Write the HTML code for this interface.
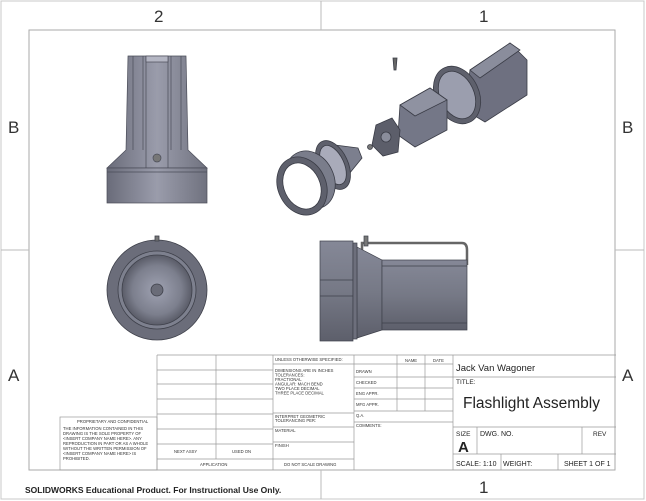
<!DOCTYPE html>
<html><head><meta charset="utf-8"><style>
body{margin:0;background:#fff;}
svg{display:block;font-family:"Liberation Sans",sans-serif;}
.t{font-size:4.2px;fill:#333;}
</style></head><body>
<svg width="646" height="501" viewBox="0 0 646 501" xmlns="http://www.w3.org/2000/svg">
<defs>
<linearGradient id="gh" x1="0" y1="0" x2="1" y2="0">
<stop offset="0" stop-color="#6a6c7a"/><stop offset="0.5" stop-color="#9a9cab"/><stop offset="1" stop-color="#70727f"/></linearGradient>
<linearGradient id="gv" x1="0" y1="0" x2="0" y2="1">
<stop offset="0" stop-color="#858897"/><stop offset="0.5" stop-color="#767986"/><stop offset="1" stop-color="#5d5f6b"/></linearGradient>
<radialGradient id="gr" cx="0.5" cy="0.5" r="0.5">
<stop offset="0" stop-color="#9fa2b2"/><stop offset="0.7" stop-color="#7c7f8d"/><stop offset="1" stop-color="#5a5c68"/></radialGradient>
</defs>
<rect x="1" y="1" width="643" height="498" fill="none" stroke="#c8c8c8" stroke-width="1"/>
<rect x="29" y="30" width="586" height="440" fill="none" stroke="#aaa" stroke-width="1"/>
<g stroke="#bbb"><line x1="321" y1="1" x2="321" y2="30"/><line x1="321" y1="470" x2="321" y2="499"/>
<line x1="1" y1="250" x2="29" y2="250"/><line x1="615" y1="250" x2="644" y2="250"/></g>
<g font-size="17" fill="#333">
<text x="154" y="22">2</text><text x="479" y="22">1</text>
<text x="8" y="133">B</text><text x="622" y="133">B</text>
<text x="8" y="381">A</text><text x="622" y="381">A</text>
<text x="154" y="497">2</text><text x="479" y="493">1</text></g>
<rect x="20" y="485" width="265" height="12" fill="#fff"/>

<g stroke="#4a4c58" stroke-width="0.7">
<polygon points="128,56 186,56 188,150 207,168 107,168 126,150" fill="url(#gh)"/>
<rect x="107" y="168" width="100" height="35" fill="url(#gh)"/>
<line x1="107" y1="172" x2="207" y2="172"/>
<line x1="143" y1="56" x2="143" y2="150"/><line x1="146" y1="56" x2="146" y2="168"/>
<line x1="168" y1="56" x2="168" y2="168"/><line x1="171" y1="56" x2="171" y2="150"/>
<line x1="133" y1="56" x2="133" y2="150"/><line x1="181" y1="56" x2="181" y2="150"/>
<rect x="146" y="56" width="22" height="6" fill="#b4b6c3"/>
<circle cx="157" cy="158" r="4" fill="#777"/></g>

<g stroke="#3e404a" stroke-width="0.8">
<circle cx="157" cy="290" r="50" fill="#6b6d7a"/>
<circle cx="157" cy="290" r="39" fill="#7d808e"/>
<circle cx="157" cy="290" r="35" fill="url(#gr)"/>
<circle cx="157" cy="290" r="6" fill="#6a6c78"/>
<rect x="155" y="236" width="4" height="5" fill="#777"/></g>

<g stroke="#3e404a" stroke-width="0.7">
<path d="M362,262 V243 H462 Q467,243 467,250 V265" fill="none" stroke="#666" stroke-width="2.5"/>
<polygon points="357,247 382,260 382,330 357,338" fill="url(#gv)"/>
<rect x="382" y="260" width="85" height="70" fill="url(#gv)"/>
<line x1="382" y1="266" x2="467" y2="266"/><line x1="382" y1="323" x2="467" y2="323"/>
<rect x="320" y="241" width="33" height="100" fill="url(#gv)"/>
<line x1="320" y1="280" x2="353" y2="280"/><line x1="320" y1="296" x2="353" y2="296"/>
<rect x="353" y="243" width="4" height="96" fill="#6d6f7c"/>
<rect x="364" y="236" width="4" height="10" fill="#777"/></g>

<g stroke="#3a3c46" stroke-width="0.8">
<polygon points="470,70 510,43 527,60 527,95 485,122 465,110" fill="#6e7080"/>
<polygon points="470,70 510,43 520,50 480,78" fill="#8a8d9c"/>
<ellipse cx="457" cy="95" rx="22" ry="30" transform="rotate(-25 457 95)" fill="#5e606c"/>
<ellipse cx="457" cy="95" rx="17" ry="25" transform="rotate(-25 457 95)" fill="#9b9eae"/>
<polygon points="400,105 430,88 447,100 447,130 415,147 398,135" fill="#747787"/>
<polygon points="400,105 430,88 447,100 415,116" fill="#8f92a1"/>
<polygon points="376,125 392,118 400,130 398,152 383,156 372,145" fill="#5c5e6a"/>
<circle cx="386" cy="137" r="5" fill="#8a8d9b"/>
<circle cx="370" cy="147" r="2.5" fill="#777"/>
<polygon points="335,145 358,148 362,158 340,185" fill="#7c7f8e"/>
<ellipse cx="333" cy="165" rx="15" ry="26" transform="rotate(-25 333 165)" fill="#5e606c"/>
<ellipse cx="333" cy="165" rx="11" ry="21" transform="rotate(-25 333 165)" fill="#a9abba"/>
<ellipse cx="310" cy="180" rx="24" ry="30" transform="rotate(-25 310 180)" fill="#7a7d8b"/>
<ellipse cx="302" cy="186" rx="24" ry="30" transform="rotate(-25 302 186)" fill="#5e606c"/>
<ellipse cx="302" cy="186" rx="18" ry="24" transform="rotate(-25 302 186)" fill="#fff"/>
<polygon points="393,58 397,58 396,70 394,70" fill="#666"/></g>

<g stroke="#9a9a9a" stroke-width="0.7" fill="none">
<path d="M157,355 H616 M157,355 V470 M216,355 V459 M273,355 V470 M354,355 V470 M397,355 V411 M425,355 V411 M453,355 V470"/>
<path d="M157,370 H273 M157,384 H273 M157,399 H273 M157,414 H273 M157,429 H273 M157,444 H273 M157,459 H354"/>
<path d="M273,364 H354 M273,413 H354 M273,427 H354 M273,442 H354"/>
<path d="M354,364 H453 M354,377 H453 M354,388 H453 M354,399 H453 M354,411 H453 M354,422 H453"/>
<path d="M453,377 H616 M453,427 H616 M453,454 H616 M477,427 V454 M582,427 V454 M501,454 V470 M558,454 V470"/>
<rect x="60" y="417" width="97" height="53"/></g>
<g class="t">
<text x="275" y="361">UNLESS OTHERWISE SPECIFIED:</text>
<text x="405" y="362">NAME</text><text x="433" y="362">DATE</text>
<text x="275" y="372">DIMENSIONS ARE IN INCHES</text>
<text x="275" y="376.5">TOLERANCES:</text><text x="275" y="381">FRACTIONAL</text>
<text x="275" y="385.5">ANGULAR: MACH      BEND</text>
<text x="275" y="390">TWO PLACE DECIMAL</text><text x="275" y="394.5">THREE PLACE DECIMAL</text>
<text x="275" y="418">INTERPRET GEOMETRIC</text><text x="275" y="422">TOLERANCING PER:</text>
<text x="275" y="432">MATERIAL</text><text x="275" y="447">FINISH</text>
<text x="284" y="466">DO NOT SCALE DRAWING</text>
<text x="200" y="466">APPLICATION</text>
<text x="174" y="453">NEXT ASSY</text><text x="232" y="453">USED ON</text>
<text x="356" y="373">DRAWN</text><text x="356" y="384">CHECKED</text><text x="356" y="395">ENG APPR.</text>
<text x="356" y="406">MFG APPR.</text><text x="356" y="417">Q.A.</text><text x="356" y="427">COMMENTS:</text>
<text x="77" y="423">PROPRIETARY AND CONFIDENTIAL</text>
<text x="63" y="430">THE INFORMATION CONTAINED IN THIS</text>
<text x="63" y="435">DRAWING IS THE SOLE PROPERTY OF</text>
<text x="63" y="440">&lt;INSERT COMPANY NAME HERE&gt;.  ANY</text>
<text x="63" y="445">REPRODUCTION IN PART OR AS A WHOLE</text>
<text x="63" y="450">WITHOUT THE WRITTEN PERMISSION OF</text>
<text x="63" y="455">&lt;INSERT COMPANY NAME HERE&gt; IS</text>
<text x="63" y="460">PROHIBITED.</text></g>
<g fill="#222">
<text x="456" y="371" font-size="9.5">Jack Van Wagoner</text>
<text x="456" y="384" font-size="6.5">TITLE:</text>
<text x="463" y="408" font-size="15.5">Flashlight Assembly</text>
<text x="456" y="436" font-size="6.5">SIZE</text>
<text x="458" y="452" font-size="15" font-weight="bold">A</text>
<text x="480" y="436" font-size="7">DWG.  NO.</text>
<text x="593" y="436" font-size="6.5">REV</text>
<text x="456" y="466" font-size="7">SCALE: 1:10</text>
<text x="503" y="466" font-size="7">WEIGHT:</text>
<text x="564" y="466" font-size="7">SHEET 1 OF 1</text>
<text x="25" y="493" font-size="8.5" font-weight="bold">SOLIDWORKS Educational Product. For Instructional Use Only.</text></g>
</svg>
</body></html>
